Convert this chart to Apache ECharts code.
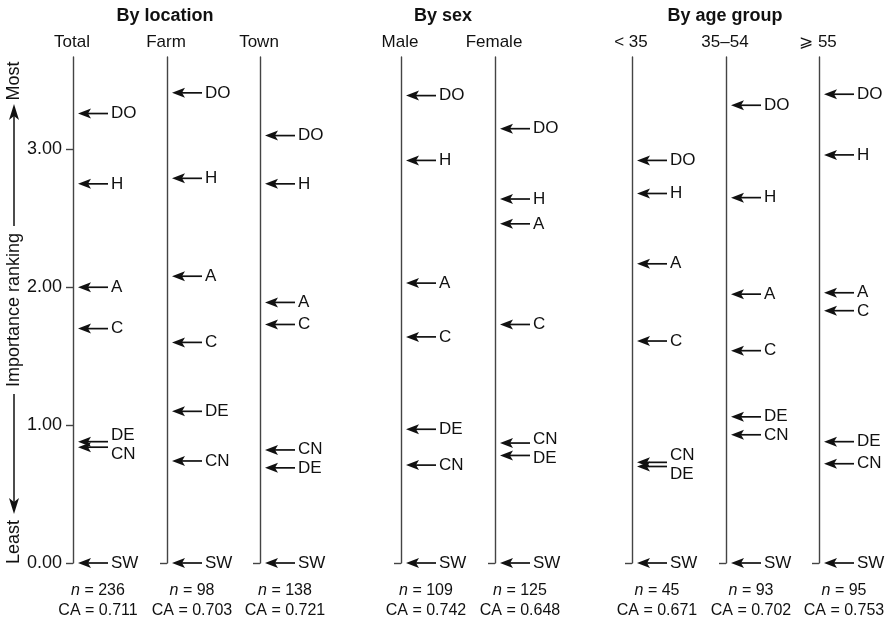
<!DOCTYPE html>
<html>
<head>
<meta charset="utf-8">
<script src="https://cdn.jsdelivr.net/npm/echarts@6/dist/echarts.min.js"></script>
<style>
html,body{margin:0;padding:0;background:#fff;}
#chart{width:890px;height:624px;}
</style>
</head>
<body>
<div id="chart"></div>
<script>
// ---------- data ----------
const categories = ['DO', 'H', 'A', 'C', 'DE', 'CN', 'SW'];
const total     = [3.26, 2.75, 2.00, 1.70, 0.88, 0.84, 0.00];
const farm      = [3.41, 2.79, 2.08, 1.60, 1.10, 0.74, 0.00];
const town      = [3.10, 2.75, 1.89, 1.73, 0.69, 0.82, 0.00];
const male      = [3.39, 2.92, 2.03, 1.64, 0.97, 0.71, 0.00];
const female    = [3.15, 2.64, 2.46, 1.73, 0.78, 0.87, 0.00];
const under35   = [2.92, 2.68, 2.17, 1.61, 0.70, 0.73, 0.00];
const age35to54 = [3.32, 2.65, 1.95, 1.54, 1.06, 0.93, 0.00];
const age55plus = [3.40, 2.96, 1.96, 1.83, 0.88, 0.72, 0.00];
const columnNames = ['Total', 'Farm', 'Town', 'Male', 'Female', '< 35', '35\u201354', '\u2A7E 55'];
const nValues  = [236, 98, 138, 109, 125, 45, 93, 95];
const caValues = ['0.711', '0.703', '0.721', '0.742', '0.648', '0.671', '0.702', '0.753'];
const groupTitles = ['By location', 'By sex', 'By age group'];
const yTicks = [0, 1, 2, 3];
const yName = 'Importance ranking';
const yMost = 'Most';
const yLeast = 'Least';

// ---------- layout ----------
const columns = [total, farm, town, male, female, under35, age35to54, age55plus];
const colX = [73, 167, 260, 401, 495, 632, 726, 819];
const titleX = [165, 443, 725];
const FONT = '"Liberation Sans", Arial, Helvetica, sans-serif';
const INK = '#111';
const AXIS = '#444';

function spread(ys, gap) {
  const idx = ys.map((y, i) => i).sort((a, b) => ys[a] - ys[b]);
  const clusters = [];
  idx.forEach(i => {
    clusters.push({ items: [i], center: ys[i] });
    while (clusters.length > 1) {
      const c = clusters[clusters.length - 1], pc = clusters[clusters.length - 2];
      const pcEnd = pc.center + (pc.items.length - 1) * gap / 2;
      const cStart = c.center - (c.items.length - 1) * gap / 2;
      if (cStart - pcEnd < gap) {
        const items = pc.items.concat(c.items);
        const center = items.reduce((s, k) => s + ys[k], 0) / items.length;
        clusters.splice(-2, 2, { items, center });
      } else break;
    }
  });
  const out = [];
  clusters.forEach(c => c.items.forEach((k, j) => { out[k] = c.center + (j - (c.items.length - 1) / 2) * gap; }));
  return out;
}

const grids = colX.map(x => ({ left: x, top: 57, bottom: 61, width: 60, containLabel: false, outerBoundsMode: 'none' }));
const xAxes = colX.map((x, i) => ({ gridIndex: i, type: 'value', min: 0, max: 1, show: false }));
const yAxes = colX.map((x, i) => ({
  gridIndex: i, type: 'value', min: 0, max: 3.67, interval: 1,
  name: i === 0 ? yName : '', nameLocation: 'middle', nameGap: 50, nameRotate: 90,
  nameTextStyle: { fontSize: 18, color: INK, fontFamily: FONT },
  axisLine: { show: true, onZero: false, lineStyle: { color: AXIS, width: 1.4 } },
  axisTick: { show: true, length: 7, inside: false, customValues: i === 0 ? yTicks : [0], lineStyle: { color: AXIS, width: 1.4 } },
  axisLabel: { show: i === 0, customValues: yTicks, formatter: v => v.toFixed(2), fontSize: 18, color: INK, fontFamily: FONT, margin: 11 },
  splitLine: { show: false }
}));

const series = columns.map((vals, i) => ({
  type: 'custom', xAxisIndex: i, yAxisIndex: i, silent: true, clip: false,
  data: vals.map((v, k) => [0, v, k]),
  renderItem: function (params, api) {
    const p = api.coord([0, api.value(1)]);
    const ys = vals.map(v => api.coord([0, v])[1]);
    const ly = spread(ys, 19)[params.dataIndex];
    const tip = p[0] + 5, y = p[1];
    return {
      type: 'group',
      children: [
        { type: 'line', shape: { x1: tip + 6, y1: y, x2: p[0] + 35, y2: y }, style: { stroke: INK, lineWidth: 1.7 } },
        { type: 'polygon', shape: { points: [[tip, y], [tip + 13, y - 5], [tip + 10, y], [tip + 13, y + 5]] }, style: { fill: INK } },
        { type: 'text', x: p[0] + 38, y: ly, style: { text: categories[api.value(2)], fill: INK, font: '17px ' + FONT, align: 'left', verticalAlign: 'middle', textAlign: 'left', textVerticalAlign: 'middle' } }
      ]
    };
  }
}));

const graphics = [];
groupTitles.forEach((t, i) => graphics.push({
  type: 'text', x: titleX[i], y: 16,
  style: { text: t, fill: INK, font: 'bold 18px ' + FONT, align: 'center', verticalAlign: 'middle', textAlign: 'center', textVerticalAlign: 'middle' }
}));
columnNames.forEach((t, i) => {
  graphics.push({
    type: 'text', x: colX[i] - 1, y: 42,
    style: { text: t, fill: INK, font: '17px ' + FONT, align: 'center', verticalAlign: 'middle', textAlign: 'center', textVerticalAlign: 'middle' }
  });
  graphics.push({
    type: 'text', x: colX[i] + 25, y: 591,
    style: { text: '{i|n} = ' + nValues[i], fill: INK, font: '16px ' + FONT, align: 'center', verticalAlign: 'middle', textAlign: 'center', textVerticalAlign: 'middle',
      rich: { i: { font: 'italic 16px ' + FONT, fill: INK } } }
  });
  graphics.push({
    type: 'text', x: colX[i] + 25, y: 611,
    style: { text: 'CA = ' + caValues[i], fill: INK, font: '16px ' + FONT, align: 'center', verticalAlign: 'middle', textAlign: 'center', textVerticalAlign: 'middle' }
  });
});
// left axis annotation: Most / Least with arrows
const AX = 14;
graphics.push(
  { type: 'text', x: AX, y: 81, rotation: Math.PI / 2, style: { text: yMost, fill: INK, font: '18px ' + FONT, align: 'center', verticalAlign: 'middle', textAlign: 'center', textVerticalAlign: 'middle' } },
  { type: 'text', x: AX, y: 542, rotation: Math.PI / 2, style: { text: yLeast, fill: INK, font: '18px ' + FONT, align: 'center', verticalAlign: 'middle', textAlign: 'center', textVerticalAlign: 'middle' } },
  { type: 'line', shape: { x1: AX, y1: 114, x2: AX, y2: 226 }, style: { stroke: INK, lineWidth: 1.5 } },
  { type: 'polygon', shape: { points: [[AX, 104], [AX - 5, 120], [AX, 116], [AX + 5, 120]] }, style: { fill: INK } },
  { type: 'line', shape: { x1: AX, y1: 394, x2: AX, y2: 504 }, style: { stroke: INK, lineWidth: 1.5 } },
  { type: 'polygon', shape: { points: [[AX, 514], [AX - 5, 498], [AX, 502], [AX + 5, 498]] }, style: { fill: INK } }
);

const chart = echarts.init(document.getElementById('chart'), null, { renderer: 'canvas' });
chart.setOption({
  animation: false,
  backgroundColor: '#fff',
  textStyle: { fontFamily: FONT },
  grid: grids,
  xAxis: xAxes,
  yAxis: yAxes,
  series: series,
  graphic: { elements: graphics }
});
</script>
</body>
</html>
